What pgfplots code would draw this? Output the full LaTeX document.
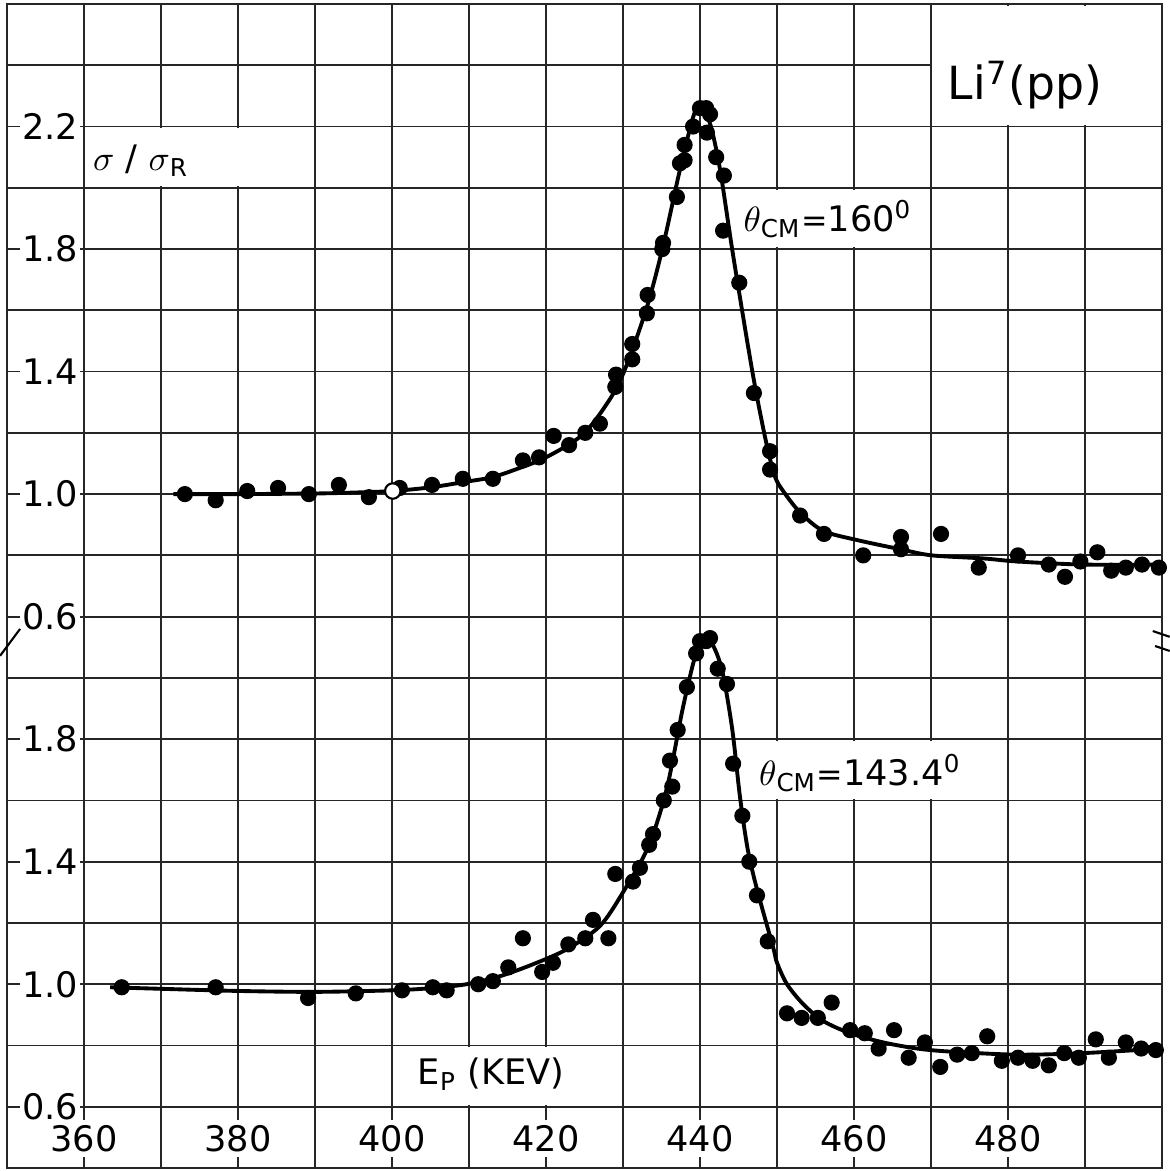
\documentclass[border=0pt]{standalone}
\usepackage{fontspec}
\setmainfont{DejaVu Sans}
\usepackage{pgfplots}
\usepackage{pgfplotstable}
\pgfplotsset{compat=1.18}

% theta_CM = 160 deg (upper panel, drawn 1.6 higher)
\pgfplotstableread{
E s
373.1 1.00
377.1 0.98
381.2 1.01
385.2 1.02
389.2 1.00
393.1 1.03
397.0 0.99
401.0 1.02
405.2 1.03
409.2 1.05
413.1 1.05
417.0 1.11
419.1 1.12
421.0 1.19
423.0 1.16
425.1 1.20
427.0 1.23
429.0 1.35
429.1 1.39
431.2 1.44
431.2 1.49
433.1 1.59
433.2 1.65
435.1 1.80
435.2 1.82
437.0 1.97
437.4 2.08
438.0 2.09
438.0 2.14
439.1 2.20
440.0 2.26
440.8 2.26
441.3 2.24
440.9 2.18
442.1 2.10
443.1 2.04
443.0 1.86
445.1 1.69
447.0 1.33
449.1 1.14
449.1 1.08
453.0 0.93
456.1 0.87
461.2 0.80
466.1 0.86
466.1 0.82
471.3 0.87
476.2 0.76
481.3 0.80
485.3 0.77
487.4 0.73
489.4 0.78
491.6 0.81
493.4 0.75
495.3 0.76
497.4 0.77
499.6 0.76
}\upperpts

\pgfplotstableread{
E s
371.6 1.000
380.0 1.000
390.0 1.002
395.0 1.005
400.0 1.010
405.0 1.022
410.0 1.042
413.0 1.055
416.0 1.080
420.0 1.120
424.8 1.195
428.3 1.310
430.3 1.410
433.1 1.610
435.2 1.810
437.4 2.060
439.1 2.230
440.0 2.270
441.3 2.210
442.6 2.060
444.3 1.780
446.8 1.400
448.5 1.180
449.7 1.060
450.8 1.010
453.0 0.940
456.0 0.880
460.4 0.850
466.0 0.820
470.1 0.800
476.8 0.790
481.2 0.780
489.7 0.770
500.0 0.770
}\uppercurve

% theta_CM = 143.4 deg (lower panel)
\pgfplotstableread{
E s
364.9 0.99
377.1 0.99
389.1 0.955
395.3 0.97
401.3 0.98
405.3 0.99
407.1 0.98
411.2 1.00
413.1 1.01
415.1 1.055
417.0 1.15
419.5 1.04
420.9 1.07
422.9 1.13
425.1 1.15
426.1 1.21
428.1 1.15
429.0 1.36
431.3 1.335
432.2 1.38
433.4 1.455
433.9 1.49
435.3 1.60
436.4 1.645
436.1 1.73
437.1 1.83
438.3 1.97
439.5 2.08
440.0 2.12
440.8 2.12
441.3 2.13
442.3 2.03
443.5 1.98
444.3 1.72
445.5 1.55
446.4 1.40
447.4 1.29
448.8 1.14
451.3 0.905
453.2 0.89
455.3 0.89
457.1 0.94
459.5 0.85
461.4 0.84
463.2 0.79
465.2 0.85
467.1 0.76
469.2 0.81
471.2 0.73
473.4 0.77
475.3 0.775
477.3 0.83
479.2 0.75
481.3 0.76
483.2 0.75
485.3 0.735
487.3 0.775
489.2 0.76
491.4 0.82
493.1 0.76
495.3 0.81
497.3 0.79
499.2 0.785
}\lowerpts

\pgfplotstableread{
E s
363.4 0.990
370.0 0.985
380.0 0.978
390.0 0.975
400.0 0.980
405.0 0.987
409.7 1.000
414.0 1.026
418.3 1.065
422.7 1.114
427.0 1.190
430.0 1.300
433.3 1.450
435.7 1.640
437.8 1.905
439.6 2.090
440.9 2.130
442.0 2.090
443.0 2.010
444.2 1.830
445.2 1.610
446.2 1.440
447.4 1.310
449.5 1.120
450.0 1.070
451.3 1.000
453.4 0.935
456.0 0.880
459.5 0.840
463.8 0.810
468.2 0.790
472.5 0.780
481.2 0.770
489.7 0.775
500.0 0.790
}\lowercurve

\newcommand{\lbl}{\fontsize{10}{12}\selectfont}

\begin{document}
\begin{tikzpicture}
\begin{axis}[
  scale only axis, width=11.55cm, height=11.64cm,
  xmin=350, xmax=500, ymin=0.4, ymax=4.2,
  xtick={350,360,370,380,390,400,410,420,430,440,450,460,470,480,490,500},
  ytick={0.4,0.6,0.8,1.0,1.2,1.4,1.6,1.8,2.0,2.2,2.4,2.6,2.8,3.0,3.2,3.4,3.6,3.8,4.0,4.2},
  xticklabels={}, yticklabels={},
  major tick length=0pt,
  grid=major, grid style={black!85, line width=0.5pt},
  axis line style={black!85, line width=0.5pt},
  clip mode=individual,
]
\coordinate (SW) at (rel axis cs:0,0);
\coordinate (NE) at (rel axis cs:1,1);

% white panels behind the lettering
\fill[white] (axis cs:360.15,3.606) rectangle (axis cs:389.85,3.794);
\fill[white] (axis cs:470.15,3.806) rectangle (axis cs:499.88,4.194);
\fill[white] (axis cs:444.8,3.406) rectangle (axis cs:469.85,3.594);
\fill[white] (axis cs:447.2,1.606) rectangle (axis cs:474.5,1.794);
\fill[white] (axis cs:403.5,0.606) rectangle (axis cs:428.5,0.794);

% fitted curves
\addplot[black, line width=1.1pt, smooth] table[x=E, y expr=\thisrow{s}+1.6] {\uppercurve};
\addplot[black, line width=1.1pt, smooth] table[x=E, y=s] {\lowercurve};

% measured points
\addplot[only marks, mark=*, mark size=2.1pt, black] table[x=E, y expr=\thisrow{s}+1.6] {\upperpts};
\addplot[only marks, mark=*, mark size=2.1pt, black] table[x=E, y=s] {\lowerpts};
\addplot[only marks, mark=*, mark size=2.2pt, mark options={fill=white, draw=black, line width=0.6pt}]
  table[x=E, y expr=\thisrow{s}+1.6, row sep=\\] {E s\\ 400.1 1.01\\};

% y tick labels (two panels)
\node[fill=white, inner sep=0.6pt, font=\lbl] at (axis cs:355.6,3.8) {2.2};
\node[fill=white, inner sep=0.6pt, font=\lbl] at (axis cs:355.6,3.4) {1.8};
\node[fill=white, inner sep=0.6pt, font=\lbl] at (axis cs:355.6,3.0) {1.4};
\node[fill=white, inner sep=0.6pt, font=\lbl] at (axis cs:355.6,2.6) {1.0};
\node[fill=white, inner sep=0.6pt, font=\lbl] at (axis cs:355.6,2.2) {0.6};
\node[fill=white, inner sep=0.6pt, font=\lbl] at (axis cs:355.6,1.8) {1.8};
\node[fill=white, inner sep=0.6pt, font=\lbl] at (axis cs:355.6,1.4) {1.4};
\node[fill=white, inner sep=0.6pt, font=\lbl] at (axis cs:355.6,1.0) {1.0};
\node[fill=white, inner sep=0.6pt, font=\lbl] at (axis cs:355.6,0.6) {0.6};

% x tick labels
\node[fill=white, inner sep=1.5pt, font=\lbl] at (axis cs:360,0.495) {360};
\node[fill=white, inner sep=1.5pt, font=\lbl] at (axis cs:380,0.495) {380};
\node[fill=white, inner sep=1.5pt, font=\lbl] at (axis cs:400,0.495) {400};
\node[fill=white, inner sep=1.5pt, font=\lbl] at (axis cs:420,0.495) {420};
\node[fill=white, inner sep=1.5pt, font=\lbl] at (axis cs:440,0.495) {440};
\node[fill=white, inner sep=1.5pt, font=\lbl] at (axis cs:460,0.495) {460};
\node[fill=white, inner sep=1.5pt, font=\lbl] at (axis cs:480,0.495) {480};

% lettering
\node[font=\lbl] at (axis cs:367.4,3.688) {$\sigma$ / $\sigma$\textsubscript{R}};
\node[font=\fontsize{13}{15}\selectfont] at (axis cs:482.2,3.936) {Li\textsuperscript{7}(pp)};
\node[font=\lbl] at (axis cs:456.6,3.497) {$\theta$\textsubscript{CM}{\small=}160\textsuperscript{0}};
\node[font=\lbl] at (axis cs:460.8,1.690) {$\theta$\textsubscript{CM}{\small=}143.4\textsuperscript{0}};
\node[font=\lbl] at (axis cs:412.9,0.707) {E\textsubscript{P} (KEV)};

% axis-break marks
\draw[black, line width=0.6pt] (axis cs:349.1,2.072) -- (axis cs:351.7,2.160);
\draw[black, line width=0.6pt] (axis cs:498.8,2.153) -- (axis cs:501.0,2.134);
\draw[black, line width=0.6pt] (axis cs:499.1,2.104) -- (axis cs:501.0,2.088);
\end{axis}
\pgfresetboundingbox
\path ([shift={(-0.07cm,-0.03cm)}]SW) rectangle ([shift={(0.08cm,0.04cm)}]NE);
\end{tikzpicture}
\end{document}
